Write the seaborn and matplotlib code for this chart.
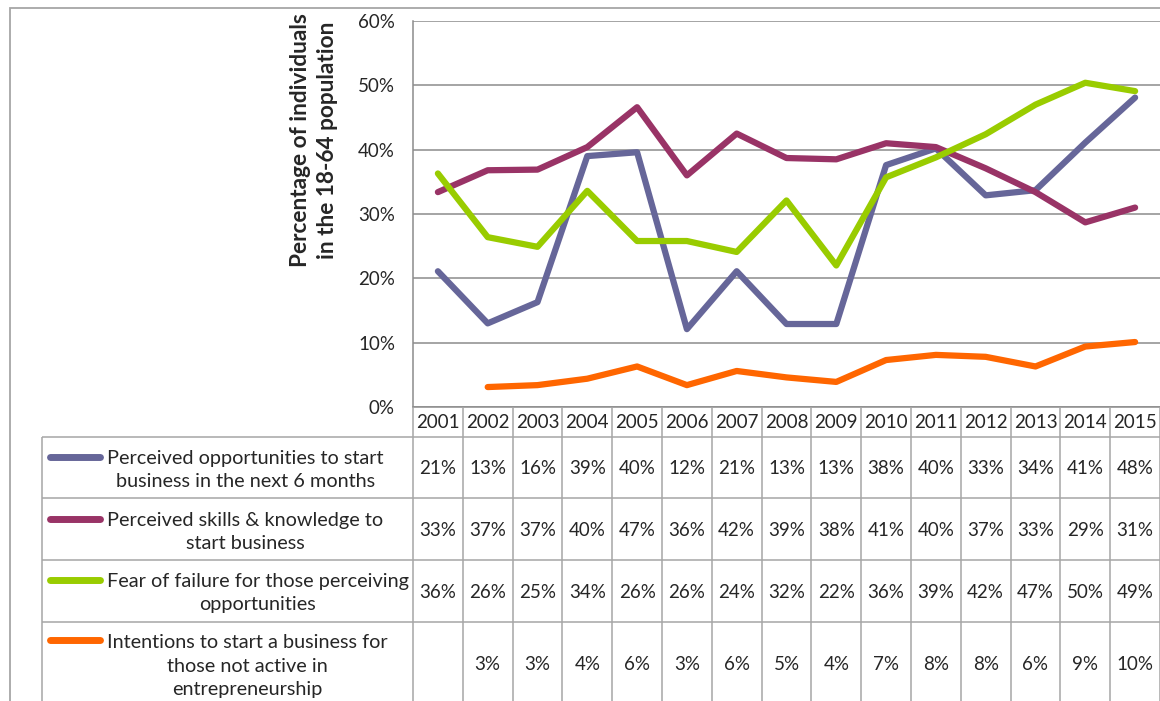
import matplotlib.pyplot as plt
import numpy as np
import pandas as pd
import seaborn as sns
from matplotlib.patches import Rectangle

years = list(range(2001, 2016))
series_names = [
    "Perceived opportunities to start\nbusiness in the next 6 months",
    "Perceived skills & knowledge to\nstart business",
    "Fear of failure for those perceiving\nopportunities",
    "Intentions to start a business for\nthose not active in\nentrepreneurship",
]
opportunities = [21.1, 13.0, 16.3, 39.0, 39.6, 12.1, 21.1, 12.9, 12.9, 37.6, 40.2, 32.9, 33.7, 41.1, 48.1]
skills = [33.4, 36.8, 36.9, 40.4, 46.6, 36.0, 42.5, 38.7, 38.5, 41.0, 40.4, 37.1, 33.4, 28.7, 31.0]
fear = [36.3, 26.4, 24.9, 33.6, 25.8, 25.8, 24.1, 32.1, 22.0, 35.7, 38.8, 42.4, 47.0, 50.4, 49.1]
intentions = [np.nan, 3.1, 3.4, 4.4, 6.3, 3.4, 5.6, 4.6, 3.9, 7.3, 8.1, 7.8, 6.3, 9.4, 10.1]
colors = ["#666699", "#993366", "#99CC00", "#FF6600"]
y_ticks = [0, 10, 20, 30, 40, 50, 60]

all_values = [opportunities, skills, fear, intentions]
df = pd.concat(
    [pd.DataFrame({"year": years, "value": vals, "series": name})
     for name, vals in zip(series_names, all_values)],
    ignore_index=True,
)

sns.set_style("white")
plt.rcParams["font.family"] = ["Lato", "DejaVu Sans"]
FS = 13.5
FS_LEG = 14.3
GRID = "#8c8c8c"
TABLE = "#a6a6a6"

W, H = 1160, 701
fig = plt.figure(figsize=(W / 100, H / 100), dpi=100)


def fx(px):
    return px / W


def fy(py):
    return 1 - py / H


# outer chart frame (partly off the picture)
fig.add_artist(Rectangle((fx(10), fy(760)), fx(1300), fy(8) - fy(760),
                         transform=fig.transFigure, fill=False,
                         edgecolor=TABLE, lw=1.3))

ax = fig.add_axes([fx(413), fy(407), fx(1160) - fx(413), fy(21) - fy(407)])
sns.lineplot(data=df, x="year", y="value", hue="series", hue_order=series_names,
             palette=colors, linewidth=4.5, legend=False, sort=False, ax=ax)
for line in ax.lines:
    line.set_solid_capstyle("round")
    line.set_solid_joinstyle("round")

ax.set_xlim(2000.5, 2015.5)
ax.set_ylim(0, 60)
ax.set_yticks(y_ticks)
ax.set_yticklabels([f"{t}%" for t in y_ticks], fontsize=FS)
ax.set_xticks([])
ax.tick_params(axis="y", length=0, pad=13)
ax.grid(axis="y", color=GRID, lw=1.1)
ax.set_axisbelow(True)
for side in ["top", "right"]:
    ax.spines[side].set_visible(False)
for side in ["left", "bottom"]:
    ax.spines[side].set_color(GRID)
    ax.spines[side].set_linewidth(1.1)
ax.set_xlabel("")
ax.set_ylabel("")

fig.text(fx(314), fy(140), "Percentage of individuals\nin the 18-64 population",
         rotation=90, ha="center", va="center", fontsize=16.3, fontweight="bold",
         linespacing=1.3)

# data table below the plot
unit = (1160 - 413) / len(years)
x0 = 2000.5 - (413 - 42) / unit
tax = fig.add_axes([fx(42), 0, 1 - fx(42), fy(407)])
tax.set_xlim(x0, 2015.5)
tax.set_ylim(701, 407)
tax.axis("off")

row_lines = [437, 498, 560, 622]
row_centers = [469, 531, 592, 665]
tax.hlines(row_lines, x0, 2015.5, color=TABLE, lw=1.1, clip_on=False)
tax.vlines([x0], 437, 720, color=TABLE, lw=1.1, clip_on=False)
tax.vlines([y - 0.5 for y in years] + [2015.5], 407, 720, color=TABLE, lw=1.1,
           clip_on=False)

for yr in years:
    tax.text(yr, 422, str(yr), ha="center", va="center", fontsize=FS)

line_px = 25
for name, vals, col, yc in zip(series_names, all_values, colors, row_centers):
    n = name.count("\n") + 1
    key_y = yc - (n - 1) * line_px / 2
    tax.plot([x0 + 8 / unit, x0 + 58 / unit], [key_y, key_y], color=col, lw=5,
             solid_capstyle="round", clip_on=False)
    tax.text(x0 + 65 / unit, yc + 1, name, ha="left", va="center", fontsize=FS_LEG,
             multialignment="center", linespacing=1.43)
    for yr, v in zip(years, vals):
        if not np.isnan(v):
            tax.text(yr, yc, f"{v:.0f}%", ha="center", va="center", fontsize=FS)

fig.savefig("out.png", dpi=100)
